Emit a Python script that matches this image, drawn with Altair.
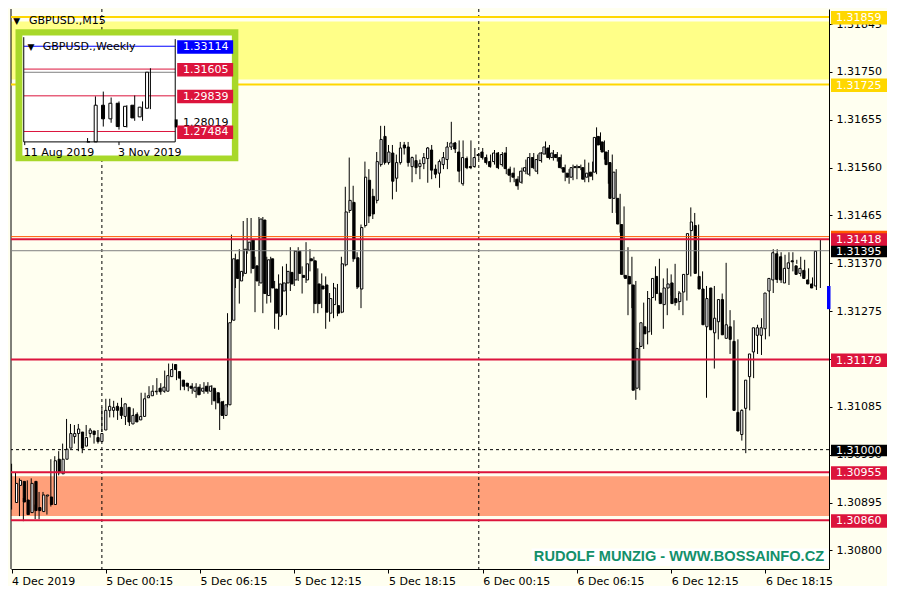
import altair as alt
import pandas as pd

# ---------------- M15 candles (GBPUSD., 4 Dec 2019 18:15 -> 6 Dec 2019) ----------------
opens = [1.30895,1.30929,1.30937,1.30900,1.30875,1.30937,1.30885,1.30877,1.30908,1.30906,
         1.30891,1.30981,1.30952,1.30981,1.31003,1.31026,1.31032,1.31035,1.31007,1.31032,
         1.31037,1.31024,1.31016,1.31039,1.31078,1.31078,1.31086,1.31084,1.31066,1.31084,
         1.31051,1.31070,1.31059,1.31066,1.31103,1.31107,1.31115,1.31122,1.31116,1.31116,
         1.31145,1.31169,1.31155,1.31138,1.31132,1.31126,1.31116,1.31124,1.31116,1.31126,
         1.31116,1.31122,1.31113,1.31095,1.31068,1.31089,1.31257,1.31377,1.31335,1.31350,
         1.31396,1.31416,1.31365,1.31331,1.31456,1.31306,1.31379,1.31319,1.31265,1.31315,
         1.31331,1.31352,1.31337,1.31394,1.31346,1.31337,1.31379,1.31375,1.31329,1.31325,
         1.31327,1.31271,1.31288,1.31286,1.31273,1.31367,1.31475,1.31491,1.31381,1.31319,
         1.31445,1.31535,1.31503,1.31495,1.31566,1.31622,1.31570,1.31589,1.31539,1.31570,
         1.31605,1.31601,1.31562,1.31574,1.31562,1.31568,1.31578,1.31595,1.31557,1.31549,
         1.31566,1.31576,1.31601,1.31609,1.31591,1.31528,1.31578,1.31562,1.31562,1.31584,
         1.31591,1.31580,1.31572,1.31572,1.31589,1.31566,1.31589,1.31557,1.31549,1.31537,
         1.31531,1.31553,1.31547,1.31580,1.31553,1.31574,1.31587,1.31599,1.31580,1.31586,
         1.31580,1.31560,1.31549,1.31541,1.31562,1.31562,1.31560,1.31541,1.31551,1.31551,
         1.31622,1.31611,1.31591,1.31570,1.31499,1.31499,1.31447,1.31346,1.31344,1.31327,
         1.31122,1.31205,1.31244,1.31234,1.31302,1.31344,1.31311,1.31288,1.31321,1.31331,
         1.31300,1.31294,1.31313,1.31348,1.31435,1.31445,1.31344,1.31319,1.31244,1.31321,
         1.31232,1.31254,1.31298,1.31221,1.31244,1.31215,1.31074,1.31030,1.31082,1.31145,
         1.31194,1.31227,1.31227,1.31240,1.31315,1.31337,1.31389,1.31383,1.31331,1.31360,
         1.31375,1.31365,1.31350,1.31356,1.31337,1.31329,1.31325]
highs = [1.30972,1.30954,1.30943,1.30904,1.30939,1.30943,1.30891,1.30916,1.30916,1.30910,
         1.30981,1.30987,1.30997,1.31012,1.31061,1.31051,1.31049,1.31051,1.31030,1.31049,
         1.31043,1.31032,1.31039,1.31084,1.31101,1.31101,1.31097,1.31093,1.31103,1.31091,
         1.31074,1.31082,1.31074,1.31113,1.31113,1.31126,1.31128,1.31142,1.31132,1.31157,
         1.31171,1.31171,1.31161,1.31145,1.31138,1.31132,1.31132,1.31132,1.31130,1.31134,
         1.31134,1.31128,1.31116,1.31103,1.31097,1.31271,1.31427,1.31389,1.31398,1.31454,
         1.31460,1.31460,1.31383,1.31462,1.31462,1.31383,1.31383,1.31335,1.31348,1.31364,
         1.31369,1.31402,1.31396,1.31402,1.31364,1.31412,1.31398,1.31383,1.31360,1.31350,
         1.31344,1.31311,1.31331,1.31329,1.31383,1.31522,1.31580,1.31524,1.31392,1.31447,
         1.31572,1.31557,1.31518,1.31591,1.31643,1.31643,1.31605,1.31605,1.31586,1.31611,
         1.31611,1.31611,1.31582,1.31586,1.31576,1.31589,1.31601,1.31605,1.31566,1.31576,
         1.31591,1.31611,1.31651,1.31611,1.31614,1.31614,1.31582,1.31614,1.31599,1.31589,
         1.31599,1.31586,1.31586,1.31595,1.31591,1.31591,1.31601,1.31562,1.31560,1.31543,
         1.31560,1.31576,1.31589,1.31589,1.31586,1.31591,1.31612,1.31605,1.31595,1.31591,
         1.31586,1.31566,1.31557,1.31566,1.31566,1.31566,1.31576,1.31570,1.31572,1.31640,
         1.31630,1.31614,1.31595,1.31586,1.31557,1.31508,1.31483,1.31402,1.31383,1.31335,
         1.31213,1.31292,1.31315,1.31319,1.31364,1.31379,1.31340,1.31360,1.31348,1.31369,
         1.31315,1.31329,1.31379,1.31481,1.31470,1.31447,1.31354,1.31325,1.31315,1.31325,
         1.31277,1.31310,1.31371,1.31277,1.31257,1.31219,1.31080,1.31084,1.31151,1.31207,
         1.31248,1.31261,1.31254,1.31315,1.31398,1.31398,1.31392,1.31387,1.31392,1.31392,
         1.31377,1.31383,1.31377,1.31360,1.31342,1.31348,1.31418]
lows = [1.30881,1.30904,1.30868,1.30858,1.30871,1.30875,1.30862,1.30862,1.30891,1.30871,
        1.30887,1.30925,1.30949,1.30978,1.30997,1.31003,1.31012,1.30997,1.30993,1.31026,
        1.31024,1.31012,1.31012,1.31035,1.31068,1.31064,1.31064,1.31059,1.31061,1.31049,
        1.31047,1.31051,1.31055,1.31062,1.31093,1.31103,1.31107,1.31109,1.31109,1.31113,
        1.31142,1.31151,1.31138,1.31118,1.31118,1.31116,1.31111,1.31103,1.31109,1.31111,
        1.31111,1.31089,1.31080,1.31039,1.31061,1.31084,1.31252,1.31321,1.31290,1.31344,
        1.31389,1.31350,1.31273,1.31325,1.31271,1.31290,1.31292,1.31240,1.31238,1.31267,
        1.31267,1.31315,1.31325,1.31335,1.31310,1.31331,1.31354,1.31271,1.31271,1.31281,
        1.31240,1.31254,1.31261,1.31265,1.31271,1.31364,1.31470,1.31373,1.31319,1.31281,
        1.31441,1.31450,1.31458,1.31489,1.31562,1.31566,1.31566,1.31497,1.31512,1.31566,
        1.31586,1.31562,1.31531,1.31547,1.31537,1.31557,1.31530,1.31537,1.31539,1.31520,
        1.31557,1.31557,1.31595,1.31589,1.31531,1.31524,1.31557,1.31557,1.31560,1.31576,
        1.31576,1.31566,1.31560,1.31566,1.31557,1.31562,1.31547,1.31531,1.31531,1.31516,
        1.31528,1.31547,1.31543,1.31557,1.31547,1.31570,1.31586,1.31576,1.31574,1.31572,
        1.31557,1.31533,1.31528,1.31535,1.31537,1.31555,1.31531,1.31531,1.31535,1.31547,
        1.31595,1.31576,1.31528,1.31470,1.31470,1.31431,1.31342,1.31267,1.31281,1.31099,
        1.31118,1.31200,1.31209,1.31228,1.31296,1.31296,1.31240,1.31267,1.31306,1.31286,
        1.31277,1.31267,1.31296,1.31344,1.31421,1.31344,1.31311,1.31103,1.31238,1.31161,
        1.31219,1.31238,1.31225,1.31190,1.31190,1.31059,1.31018,1.30993,1.31078,1.31142,
        1.31190,1.31188,1.31219,1.31225,1.31311,1.31331,1.31331,1.31331,1.31327,1.31354,
        1.31369,1.31344,1.31344,1.31337,1.31325,1.31317,1.31321]
closes = [1.30933,1.30939,1.30896,1.30871,1.30933,1.30879,1.30879,1.30910,1.30910,1.30891,
          1.30978,1.30954,1.30981,1.31001,1.31032,1.31032,1.31041,1.31003,1.31024,1.31039,
          1.31030,1.31016,1.31032,1.31078,1.31086,1.31084,1.31078,1.31068,1.31091,1.31055,
          1.31068,1.31055,1.31066,1.31101,1.31107,1.31116,1.31116,1.31115,1.31124,1.31147,
          1.31159,1.31159,1.31142,1.31126,1.31126,1.31122,1.31124,1.31109,1.31122,1.31116,
          1.31126,1.31097,1.31093,1.31068,1.31089,1.31252,1.31379,1.31340,1.31354,1.31398,
          1.31412,1.31360,1.31335,1.31458,1.31310,1.31377,1.31321,1.31271,1.31329,1.31331,
          1.31354,1.31329,1.31394,1.31350,1.31342,1.31369,1.31375,1.31290,1.31290,1.31319,
          1.31273,1.31300,1.31321,1.31271,1.31369,1.31472,1.31495,1.31379,1.31323,1.31441,
          1.31541,1.31464,1.31468,1.31572,1.31616,1.31570,1.31591,1.31533,1.31570,1.31599,
          1.31599,1.31570,1.31580,1.31560,1.31568,1.31580,1.31599,1.31555,1.31547,1.31572,
          1.31580,1.31601,1.31609,1.31597,1.31553,1.31580,1.31560,1.31560,1.31580,1.31586,
          1.31580,1.31570,1.31562,1.31589,1.31560,1.31586,1.31558,1.31545,1.31541,1.31524,
          1.31553,1.31560,1.31580,1.31560,1.31576,1.31589,1.31601,1.31580,1.31589,1.31580,
          1.31560,1.31551,1.31541,1.31560,1.31560,1.31560,1.31537,1.31549,1.31543,1.31620,
          1.31605,1.31591,1.31566,1.31499,1.31551,1.31448,1.31348,1.31340,1.31329,1.31118,
          1.31201,1.31252,1.31230,1.31300,1.31340,1.31310,1.31290,1.31321,1.31329,1.31290,
          1.31292,1.31311,1.31348,1.31429,1.31452,1.31350,1.31319,1.31248,1.31300,1.31238,
          1.31261,1.31298,1.31228,1.31248,1.31219,1.31078,1.31037,1.31078,1.31138,1.31190,
          1.31242,1.31242,1.31242,1.31311,1.31340,1.31391,1.31338,1.31337,1.31360,1.31371,
          1.31373,1.31348,1.31360,1.31340,1.31329,1.31321,1.31394]

x_tick_index = [0, 24, 48, 72, 96, 120, 144, 168, 192]
x_tick_labels = ["4 Dec 2019", "5 Dec 00:15", "5 Dec 06:15", "5 Dec 12:15", "5 Dec 18:15",
                 "6 Dec 00:15", "6 Dec 06:15", "6 Dec 12:15", "6 Dec 18:15"]
day_separators = [23, 119]
y_ticks = [1.31845, 1.31750, 1.31655, 1.31560, 1.31465, 1.31370, 1.31275,
           1.31180, 1.31085, 1.30990, 1.30895, 1.30800]

# horizontal objects
yellow_zone = [1.31850, 1.31735]
salmon_zone = [1.30947, 1.30868]
gold_lines = [1.31859, 1.31725]
orange_lines = [1.31423]
red_lines = [1.31418, 1.31179, 1.30955, 1.30860]
bid_line = [1.31395]
dashed_lines = [1.31000]
blue_marker = [1.31325, 1.31279]

box_prices = [1.31859, 1.31725, 1.31423, 1.31418, 1.31179, 1.30955, 1.30860]
box_colors = ["#FFD700", "#FFD700", "#FF5A00", "#DC143C", "#DC143C", "#DC143C", "#DC143C"]
box_show_text = [True, True, False, True, True, True, True]
black_box_prices = [1.31395, 1.31000]

# ---------------- Weekly inset ----------------
wk_k = [8, 9, 10, 11, 12, 13, 14, 15, 16]
wk_o = [1.2290, 1.2670, 1.2922, 1.2832, 1.2935, 1.2781, 1.2922, 1.2845, 1.2902]
wk_h = [1.2705, 1.2980, 1.3012, 1.2973, 1.2947, 1.2922, 1.2986, 1.2947, 1.3166]
wk_l = [1.2196, 1.2610, 1.2781, 1.2806, 1.2761, 1.2775, 1.2819, 1.2819, 1.2896]
wk_c = [1.2670, 1.2922, 1.2832, 1.2935, 1.2781, 1.2915, 1.2838, 1.2909, 1.3140]
wk_tick_k = [0, 12]
wk_tick_labels = ["11 Aug 2019", "3 Nov 2019"]
wk_line_prices = [1.33114, 1.31605, 1.29839, 1.27484, 1.31395]
wk_line_colors = ["#0000FF", "#DC143C", "#DC143C", "#DC143C", "#808080"]
wk_box_prices = [1.33114, 1.31605, 1.29839, 1.27484]
wk_box_colors = ["#0000FF", "#DC143C", "#DC143C", "#DC143C"]
wk_extra_label = [1.28019]

# ---------------- layout helpers ----------------
W, H = 818, 560
RW, RH = 833.3, 576.0


def px(x):
    return (x - 2.7) * W / RW


def py(y):
    return y * H / RH


FONT = "DejaVu Sans"
BG = "#FFFFF0"
CRIMSON = "#DC143C"
ONE = alt.Data(values=[{}])

df = pd.DataFrame({"i": list(range(len(opens))), "o": opens, "h": highs, "l": lows, "c": closes})

xs = alt.Scale(domain=[-0.15, 208.2], nice=False, zero=False)
ys = alt.Scale(domain=[1.30763, 1.31875], nice=False, zero=False)

label_expr = "[" + ",".join("'%s'" % t for t in x_tick_labels) + "][round(datum.value / 24)]"
x_axis = alt.Axis(values=x_tick_index, labelExpr=label_expr, labelAlign="left", labelFont=FONT,
                  labelFontSize=11, labelColor="black", tickColor="black", tickSize=4,
                  domainColor="black", labelPadding=2, grid=False, title=None,
                  labelFlush=False, labelOverlap=False, labelBaseline="top", orient="bottom")
y_axis = alt.Axis(orient="right", values=y_ticks, format=".5f", labelFont=FONT, labelFontSize=11,
                  labelColor="black", tickColor="black", tickSize=3, domainColor="black",
                  labelPadding=4, grid=False, title=None, labelOverlap=False, labelFlush=False)


def ydf(vals):
    return pd.DataFrame({"p": vals})


def zone(vals, color):
    return alt.Chart(pd.DataFrame({"a": [vals[0]], "b": [vals[1]]})).mark_rect(color=color).encode(
        x=alt.value(0), x2=alt.value(W),
        y=alt.Y("a:Q", scale=ys, axis=None), y2="b:Q")


def hline(vals, color, width=1, dash=None):
    kw = dict(color=color, strokeWidth=width)
    if dash:
        kw["strokeDash"] = dash
    return alt.Chart(ydf(vals)).mark_rule(**kw).encode(y=alt.Y("p:Q", scale=ys, axis=None))


zones = [zone(yellow_zone, "#FFFF88"), zone(salmon_zone, "#FFA07A")]

seps = alt.Chart(pd.DataFrame({"i": day_separators})).mark_rule(
    color="black", strokeWidth=1, strokeDash=[3, 3]).encode(x=alt.X("i:Q", scale=xs, axis=None))

left_border = alt.Chart(ONE).mark_rule(color="black", strokeWidth=1).encode(
    x=alt.value(0), y=alt.value(0), y2=alt.value(H))

wick = alt.Chart(df).mark_rule(color="black", strokeWidth=1).encode(
    x=alt.X("i:Q", scale=xs, axis=x_axis),
    y=alt.Y("l:Q", scale=ys, axis=y_axis),
    y2="h:Q")
body = alt.Chart(df).mark_bar(width=2.2, stroke="black", strokeWidth=1).encode(
    x=alt.X("i:Q", scale=xs, axis=None),
    y=alt.Y("o:Q", scale=ys, axis=None),
    y2="c:Q",
    color=alt.condition("datum.c >= datum.o", alt.value("white"), alt.value("black")))

levels = [hline(gold_lines, "#FFD700", 2), hline(orange_lines, "#FF5A00", 1),
          hline(red_lines, CRIMSON, 2), hline(bid_line, "#7F7F7F", 1),
          hline(dashed_lines, "black", 1, [3, 3])]

blue = alt.Chart(pd.DataFrame({"a": [blue_marker[0]], "b": [blue_marker[1]]})).mark_rect(
    color="#0000FF").encode(x=alt.value(W - 2), x2=alt.value(W + 1.5),
                            y=alt.Y("a:Q", scale=ys, axis=None), y2="b:Q")

boxes_df = pd.DataFrame({"p": box_prices, "col": box_colors, "show": box_show_text})
boxes_df["t"] = boxes_df["p"].map(lambda v: "%.5f" % v)
box_rects = alt.Chart(boxes_df).mark_rect(yOffset=-6, y2Offset=7.5).encode(
    x=alt.value(W + 2), x2=alt.value(W + 58),
    y=alt.Y("p:Q", scale=ys, axis=None), y2="p:Q",
    color=alt.Color("col:N", scale=None))
box_texts = alt.Chart(boxes_df).transform_filter("datum.show").mark_text(
    align="left", baseline="middle", font=FONT, fontSize=11, color="white", dy=1).encode(
    x=alt.value(W + 7), y=alt.Y("p:Q", scale=ys, axis=None), text="t:N")

bb_df = pd.DataFrame({"p": black_box_prices})
bb_df["t"] = bb_df["p"].map(lambda v: "%.5f" % v)
bb_rects = alt.Chart(bb_df).mark_rect(color="black", yOffset=-5, y2Offset=6.5).encode(
    x=alt.value(W + 2), x2=alt.value(W + 58),
    y=alt.Y("p:Q", scale=ys, axis=None), y2="p:Q")
bb_texts = alt.Chart(bb_df).mark_text(
    align="left", baseline="middle", font=FONT, fontSize=11, color="white", dy=1).encode(
    x=alt.value(W + 7), y=alt.Y("p:Q", scale=ys, axis=None), text="t:N")

title_tri = alt.Chart(ONE).mark_text(font=FONT, fontSize=9, color="black", baseline="middle").encode(
    x=alt.value(px(8.5)), y=alt.value(py(12)), text=alt.value("▼"))
title_txt = alt.Chart(ONE).mark_text(font=FONT, fontSize=11, color="black", align="left",
                                     baseline="middle").encode(
    x=alt.value(px(21)), y=alt.value(py(12)), text=alt.value("GBPUSD.,M15"))

wm_box = alt.Chart(ONE).mark_rect(color="white").encode(
    x=alt.value(px(533)), x2=alt.value(px(835)), y=alt.value(py(555)), y2=alt.value(py(573)))
wm_txt = alt.Chart(ONE).mark_text(font="Liberation Sans", fontWeight="bold", fontSize=14.6,
                                  color="#13906A", align="right", baseline="middle").encode(
    x=alt.value(px(831)), y=alt.value(py(564)), text=alt.value("RUDOLF MUNZIG - WWW.BOSSAINFO.CZ"))

main_layers = [*zones, seps, left_border, wick, body, *levels, blue,
               box_rects, box_texts, bb_rects, bb_texts, title_tri, title_txt, wm_box, wm_txt]

# ---------------- inset ----------------
ixs = alt.Scale(domain=[-0.125, 19.16], range=[px(15.7), px(170)], nice=False, zero=False)
iys = alt.Scale(domain=[1.26797, 1.33647], range=[py(136.7), py(30)], nice=False, zero=False, clamp=True)

wdf = pd.DataFrame({"k": wk_k, "o": wk_o, "h": wk_h, "l": wk_l, "c": wk_c})

frame_outer = alt.Chart(ONE).mark_rect(color="#A8D82A").encode(
    x=alt.value(px(7.3)), x2=alt.value(px(234.3)), y=alt.value(py(20.7)), y2=alt.value(py(156.7)))
frame_inner = alt.Chart(ONE).mark_rect(color="white").encode(
    x=alt.value(px(14.3)), x2=alt.value(px(227.7)), y=alt.value(py(27.3)), y2=alt.value(py(150.7)))

il_df = pd.DataFrame({"p": wk_line_prices, "col": wk_line_colors})
i_lines = alt.Chart(il_df).mark_rule(strokeWidth=1).encode(
    x=alt.value(px(16)), x2=alt.value(px(170)),
    y=alt.Y("p:Q", scale=iys, axis=None), color=alt.Color("col:N", scale=None))

i_wick = alt.Chart(wdf).mark_rule(color="black", strokeWidth=1).encode(
    x=alt.X("k:Q", scale=ixs, axis=None), y=alt.Y("l:Q", scale=iys, axis=None), y2="h:Q")
i_body = alt.Chart(wdf).mark_bar(width=3, stroke="black", strokeWidth=1).encode(
    x=alt.X("k:Q", scale=ixs, axis=None), y=alt.Y("o:Q", scale=iys, axis=None), y2="c:Q",
    color=alt.condition("datum.c >= datum.o", alt.value("white"), alt.value("black")))

i_left = alt.Chart(ONE).mark_rule(color="black").encode(
    x=alt.value(px(15.7)), y=alt.value(py(29)), y2=alt.value(py(136.7)))
i_right = alt.Chart(ONE).mark_rule(color="black").encode(
    x=alt.value(px(170)), y=alt.value(py(31)), y2=alt.value(py(136.7)))
i_bottom = alt.Chart(ONE).mark_rule(color="black").encode(
    x=alt.value(px(15.7)), x2=alt.value(px(170)), y=alt.value(py(136.7)))

itk_df = pd.DataFrame({"k": wk_tick_k, "t": wk_tick_labels})
i_ticks = alt.Chart(itk_df).mark_rule(color="black").encode(
    x=alt.X("k:Q", scale=ixs, axis=None), y=alt.value(py(136.7)), y2=alt.value(py(140)))
i_tick_txt = alt.Chart(itk_df).mark_text(font=FONT, fontSize=11, color="black", align="left",
                                         baseline="middle", dx=-1).encode(
    x=alt.X("k:Q", scale=ixs, axis=None), y=alt.value(py(148)), text="t:N")

ex_df = pd.DataFrame({"p": wk_extra_label})
ex_df["t"] = ex_df["p"].map(lambda v: "%.5f" % v)
i_extra = alt.Chart(ex_df).mark_text(font=FONT, fontSize=11, color="black", align="left",
                                     baseline="middle").encode(
    x=alt.value(px(178)), y=alt.Y("p:Q", scale=iys, axis=None), text="t:N")
i_marker = alt.Chart(ex_df).mark_rect(color="black", yOffset=-4, y2Offset=4).encode(
    x=alt.value(px(169.5)), x2=alt.value(px(172.5)),
    y=alt.Y("p:Q", scale=iys, axis=None), y2="p:Q")

ib_df = pd.DataFrame({"p": wk_box_prices, "col": wk_box_colors})
ib_df["t"] = ib_df["p"].map(lambda v: "%.5f" % v)
i_boxes = alt.Chart(ib_df).mark_rect(yOffset=-6, y2Offset=7.5).encode(
    x=alt.value(px(172)), x2=alt.value(px(229)),
    y=alt.Y("p:Q", scale=iys, axis=None), y2="p:Q", color=alt.Color("col:N", scale=None))
i_box_txt = alt.Chart(ib_df).mark_text(font=FONT, fontSize=11, color="white", align="left",
                                       baseline="middle", dy=1).encode(
    x=alt.value(px(178)), y=alt.Y("p:Q", scale=iys, axis=None), text="t:N")

i_tri = alt.Chart(ONE).mark_text(font=FONT, fontSize=9, color="black", baseline="middle").encode(
    x=alt.value(px(23)), y=alt.value(py(39.5)), text=alt.value("▼"))
i_title = alt.Chart(ONE).mark_text(font=FONT, fontSize=11, color="black", align="left",
                                   baseline="middle").encode(
    x=alt.value(px(35)), y=alt.value(py(39.5)), text=alt.value("GBPUSD.,Weekly"))

inset_layers = [frame_outer, frame_inner, i_lines, i_wick, i_body, i_left, i_right, i_bottom,
                i_ticks, i_tick_txt, i_extra, i_marker, i_boxes, i_box_txt, i_tri, i_title]

chart = alt.layer(*main_layers, *inset_layers).resolve_scale(
    x="independent", y="independent").properties(
    width=W, height=H, background=BG,
    padding={"left": 2, "top": 0, "right": 0, "bottom": 0}
).configure_view(stroke=None)

chart.save("out.html", embed_options={"renderer": "svg", "actions": False})
